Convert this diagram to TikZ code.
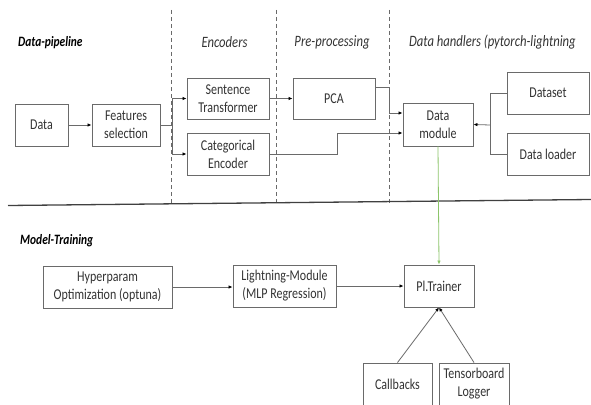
\documentclass[tikz,border=0pt]{standalone}
\usepackage{fontspec}
\setmainfont[FakeStretch=0.8]{Carlito}
\usetikzlibrary{arrows.meta}
\definecolor{boxline}{HTML}{6A6A6A}
\definecolor{txt}{HTML}{333333}
\definecolor{lgreen}{HTML}{8CC56A}
\tikzset{
  box/.style={draw=boxline, line width=0.9pt, fill=white, align=center, text=txt,
    font=\fontsize{15}{18}\selectfont, inner sep=0pt},
  conn/.style={draw=boxline, line width=0.8pt},
  arr/.style={conn, -{Latex[length=4pt,width=3.5pt,black]}},
  sep/.style={draw=boxline, line width=0.9pt, dash pattern=on 4pt off 3pt},
  head/.style={text=txt, font=\fontsize{15.8}{18}\selectfont\itshape, inner sep=0pt},
  bhead/.style={text=black, font=\fontsize{14.3}{17}\selectfont\bfseries\itshape, inner sep=0pt, anchor=west},
}
\begin{document}
\begin{tikzpicture}[x=1pt,y=-1pt]
\clip (0,0) rectangle (591,404);
\fill[white] (0,0) rectangle (591,404);

% separators
\draw[sep] (171,10) -- (171,205);
\draw[sep] (276,10) -- (276,204);
\draw[sep] (389,10) -- (389,203);
\draw[line width=1.3pt, draw=black!75] (8,205.5) -- (591,199.5);

% headings
\node[bhead] (hdp) at (18,43) {Data-pipeline};
\node[head] (henc) at (224.5,42) {Encoders};
\node[head] (hpre) at (332,42) {Pre-processing};
\node[head, anchor=west] (hdh) at (409,42) {Data handlers (pytorch-lightning};
\node[bhead] (hmt) at (20,241) {Model-Training};

% boxes top
\node[box, minimum width=53pt, minimum height=42pt] (data) at (41.5,125) {Data};
\node[box, minimum width=68pt, minimum height=42pt] (fs) at (126,125) {Features\\selection};
\node[box, minimum width=82pt, minimum height=41pt] (st) at (228,98.5) {Sentence\\Transformer};
\node[box, minimum width=82pt, minimum height=42pt] (ce) at (228,154) {Categorical\\Encoder};
\node[box, minimum width=82pt, minimum height=41pt] (pca) at (334,98.5) {PCA};
\node[box, minimum width=70pt, minimum height=43pt] (dm) at (438,124.5) {Data\\module};
\node[box, minimum width=82pt, minimum height=42pt] (ds) at (548,93) {Dataset};
\node[box, minimum width=82pt, minimum height=42pt] (dl) at (548,154) {Data loader};

% boxes bottom
\node[box, minimum width=129pt, minimum height=42pt] (hp) at (107.5,287) {Hyperparam\\Optimization (optuna)};
\node[box, minimum width=103pt, minimum height=42pt] (lm) at (284.5,286) {Lightning-Module\\(MLP Regression)};
\node[box, minimum width=70pt, minimum height=42pt] (pi) at (439,286) {Pl.Trainer};
\node[box, minimum width=69pt, minimum height=42pt] (cb) at (397.5,384) {Callbacks};
\node[box, minimum width=70pt, minimum height=42pt] (tb) at (474,384) {Tensorboard\\Logger};

% junction coordinates
\coordinate (sp) at (172,125);
\coordinate (j1) at (389,87);
\coordinate (j2) at (389,113);
\coordinate (j3) at (337,133);
\coordinate (j4) at (490,125);

% connectors top
\draw[arr] (data) -- (fs);
\draw[conn] (fs.east) -- (sp);
\draw[arr] (sp) |- (st.west);
\draw[arr] (sp) |- (ce.west);
\draw[arr] (st) -- (pca);
\draw[arr] (pca.east |- j1) -| (j2) -- (dm.west |- j2);
\draw[arr] (ce.east) -| (j3) -- (dm.west |- j3);
\draw[conn] (ds.west) -| (j4);
\draw[conn] (dl.west) -| (j4);
\draw[arr] (j4) -- (dm.east);

% green link
\draw[draw=lgreen, line width=0.8pt, -{Latex[length=4pt,width=3.5pt,lgreen]}] (dm.south) -- (pi.north);

% connectors bottom
\draw[arr] (hp) -- (lm.west |- hp);
\draw[arr] (lm) -- (pi);
\draw[arr] (cb.north) -- (pi.south);
\draw[arr] (tb.north) -- (pi.south);
\end{tikzpicture}
\end{document}
